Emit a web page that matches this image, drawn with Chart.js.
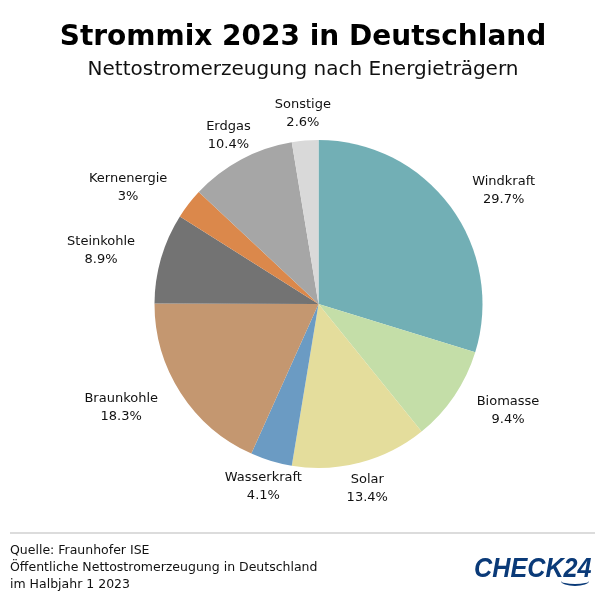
<!DOCTYPE html>
<html>
<head>
<meta charset="utf-8">
<script src="https://cdn.jsdelivr.net/npm/chart.js@4/dist/chart.umd.min.js"></script>
<style>
    body { margin: 0; background: #fff; font-family: "DejaVu Sans", Verdana, sans-serif; }
    #wrap { position: relative; width: 606px; height: 603px; overflow: hidden; }
    #myChart { position: absolute; left: 0; top: 0; }
    .title { position: absolute; left: 0; width: 606px; text-align: center; color: #000; white-space: nowrap; }
    #t1 { top: 19px; font-size: 28px; font-weight: bold; line-height: 34px; }
    #t2 { top: 56px; font-size: 20px; line-height: 24px; color: #111; }
    #rule { position: absolute; left: 10px; top: 532px; width: 585px; height: 2px; background: #dcdcdc; }
    #source { position: absolute; left: 10px; top: 541px; font-size: 12.5px; line-height: 17px; color: #111; }
    #logo { position: absolute; left: 474px; top: 554px; font-family: "Liberation Sans", Arial, sans-serif;
            font-weight: bold; font-style: italic; font-size: 28px; line-height: 28px; color: #0a3a78;
            transform: scaleX(0.9); transform-origin: 0 0; white-space: nowrap; }
    #smile { position: absolute; left: 561px; top: 576px; width: 28px; height: 8px; border-bottom: 2px solid #0a3a78;
             border-radius: 0 0 50% 50%; }
</style>
</head>
<body>
<div id="wrap">
    <canvas id="myChart" width="606" height="603"></canvas>
    <div class="title" id="t1">Strommix 2023 in Deutschland</div>
    <div class="title" id="t2">Nettostromerzeugung nach Energieträgern</div>
    <div id="rule"></div>
    <div id="source">Quelle: Fraunhofer ISE<br>Öffentliche Nettostromerzeugung in Deutschland<br>im Halbjahr 1 2023</div>
    <div id="logo">CHECK24</div>
    <div id="smile"></div>
</div>
<script>
// data (percent of net power generation)
const categories = ["Windkraft", "Biomasse", "Solar", "Wasserkraft", "Braunkohle", "Steinkohle", "Kernenergie", "Erdgas", "Sonstige"];
const shares = [29.7, 9.4, 13.4, 4.1, 18.3, 8.9, 3, 10.4, 2.6];
const sliceColors = ["#72afb5", "#c4dea8", "#e4dd9c", "#6b9bc3", "#c49770", "#737373", "#db884b", "#a6a6a6", "#d9d9d9"];

// draws "name \n value%" outside every slice
const outsideLabels = {
    id: 'outsideLabels',
    afterDatasetsDraw(chart) {
        const ctx = chart.ctx;
        const meta = chart.getDatasetMeta(0);
        ctx.save();
        ctx.font = '13px "DejaVu Sans", Verdana, sans-serif';
        ctx.fillStyle = '#111';
        ctx.textBaseline = 'middle';
        ctx.textAlign = 'center';
        meta.data.forEach((arc, i) => {
            const p = arc.getProps(['x', 'y', 'startAngle', 'endAngle', 'outerRadius'], true);
            const mid = (p.startAngle + p.endAngle) / 2;
            const r = p.outerRadius + 27;
            const ax = p.x + Math.cos(mid) * r;
            const ay = p.y + Math.sin(mid) * r;
            const lines = [categories[i], shares[i] + '%'];
            const w = Math.max(...lines.map(l => ctx.measureText(l).width));
            let cx = ax;
            // left / right of the pie the block sticks to the anchor, top and bottom it is centered
            if (Math.cos(mid) > 0.6) cx = ax + w / 2;
            else if (Math.cos(mid) < -0.6) cx = ax - w / 2;
            ctx.fillText(lines[0], cx, ay - 9);
            ctx.fillText(lines[1], cx, ay + 9);
        });
        ctx.restore();
    }
};

new Chart("myChart", {
    type: "pie",
    data: {
        labels: categories,
        datasets: [{
            data: shares,
            backgroundColor: sliceColors,
            borderWidth: 0
        }]
    },
    options: {
        responsive: false,
        animation: false,
        layout: { padding: { left: 154.5, right: 123.5, top: 140, bottom: 135 } },
        plugins: {
            legend: { display: false },
            tooltip: { enabled: false }
        }
    },
    plugins: [outsideLabels]
});
</script>
</body>
</html>
